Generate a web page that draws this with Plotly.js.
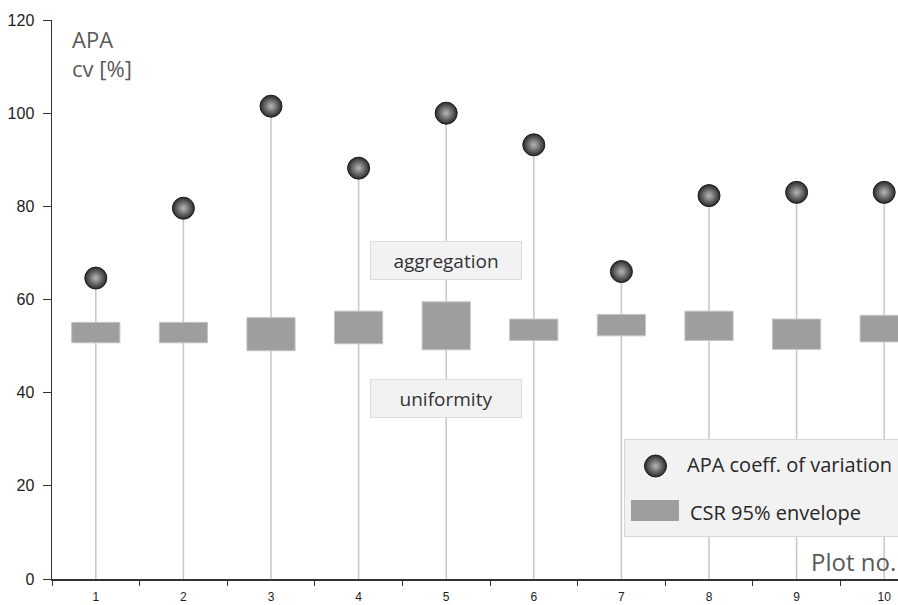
<!DOCTYPE html>
<html>
<head>
<meta charset="utf-8">
<script src="https://cdn.plot.ly/plotly-3.0.1.min.js"></script>
<style>
html, body { margin: 0; padding: 0; overflow: hidden; background: #ffffff; }
#chart { width: 940px; height: 605px; }
</style>
</head>
<body>
<div id="chart"></div>
<script>
// ---- data ----
const plotNo = ['1', '2', '3', '4', '5', '6', '7', '8', '9', '10'];
const apaCV = [64.6, 79.6, 101.5, 88.2, 100.0, 93.2, 66.0, 82.3, 83.0, 83.0];
const csrLow = [50.7, 50.7, 49.0, 50.5, 49.2, 51.2, 52.2, 51.2, 49.3, 50.9];
const csrHigh = [55.1, 55.1, 56.1, 57.5, 59.5, 55.8, 56.8, 57.5, 55.8, 56.6];
const yTicks = [0, 20, 40, 60, 80, 100, 120];

// ---- layout geometry ----
const W = 940, H = 605, ML = 52, MR = 12, MT = 20, MB = 26;
const PW = W - ML - MR, PH = H - MT - MB;
const px = x => (x - ML) / PW;
const py = y => (H - MB - y) / PH;

const envelopeSize = csrHigh.map((h, i) => h - csrLow[i]);

const traces = [
  {
    type: 'bar', x: plotNo, y: apaCV, width: 0.017,
    marker: { color: '#c6c6c6', line: { width: 0 } },
    showlegend: false, hoverinfo: 'skip'
  },
  {
    type: 'bar', x: plotNo, base: csrLow, y: envelopeSize, width: 0.55,
    marker: { color: '#9e9e9e', line: { color: '#c4c4c4', width: 1 } },
    name: 'CSR 95% envelope', showlegend: false
  },
  {
    type: 'scatter', mode: 'markers', x: plotNo, y: apaCV,
    marker: {
      size: 22, color: '#2a2a2a',
      gradient: { type: 'radial', color: '#b8b8b8' },
      line: { color: '#1c1c1c', width: 1 }
    },
    name: 'APA coeff. of variation', showlegend: false
  }
];

const svgUri = s => 'data:image/svg+xml;charset=utf-8,' + encodeURIComponent(s);
const legendBg = "<svg xmlns='http://www.w3.org/2000/svg' width='316' height='98' viewBox='0 0 316 98'>" +
  "<rect x='0.5' y='0.5' width='315' height='97' fill='#f2f2f2' stroke='#d6d6d6' stroke-width='1'/></svg>";
const legendBall = "<svg xmlns='http://www.w3.org/2000/svg' width='24' height='24' viewBox='0 0 24 24'>" +
  "<defs><radialGradient id='g' cx='50%' cy='50%' r='50%'><stop offset='0' stop-color='#b8b8b8'/>" +
  "<stop offset='1' stop-color='#2a2a2a'/></radialGradient></defs>" +
  "<circle cx='12' cy='12' r='11' fill='url(#g)' stroke='#1c1c1c' stroke-width='1'/></svg>";

const textFont = 'Open Sans, Noto Sans, sans-serif';
const annBox = (text, cx, cy) => ({
  xref: 'paper', yref: 'paper', x: px(cx), y: py(cy),
  xanchor: 'center', yanchor: 'middle', showarrow: false,
  text: text, font: { family: textFont, size: 19, color: '#333333' },
  bgcolor: '#f2f2f2', bordercolor: '#dcdcdc', borderwidth: 1, borderpad: 0,
  width: 150, height: 37
});
const annText = (text, x, cy, size, color) => ({
  xref: 'paper', yref: 'paper', x: px(x), y: py(cy),
  xanchor: 'left', yanchor: 'middle', showarrow: false, align: 'left',
  text: text, font: { family: textFont, size: size, color: color }
});

const layout = {
  width: W, height: H,
  margin: { l: ML, r: MR, t: MT, b: MB, pad: 0 },
  paper_bgcolor: '#ffffff', plot_bgcolor: '#ffffff',
  barmode: 'overlay',
  showlegend: false,
  xaxis: {
    type: 'category', range: [-0.5, 9.5], fixedrange: true,
    tickson: 'boundaries', ticks: 'outside', ticklen: 5, tickwidth: 1, tickcolor: '#333333',
    showline: true, linecolor: '#333333', linewidth: 1.5,
    showgrid: false, zeroline: false, automargin: false,
    tickfont: { family: 'Liberation Sans, Arial, sans-serif', size: 12, color: '#222222' },
    ticklabelstandoff: 6
  },
  yaxis: {
    range: [0, 120], tickvals: yTicks, ticktext: yTicks.map(String), fixedrange: true,
    ticks: 'outside', ticklen: 8, tickwidth: 1, tickcolor: '#333333',
    showline: true, linecolor: '#333333', linewidth: 1.5,
    showgrid: false, zeroline: false, automargin: false,
    tickfont: { family: 'Liberation Sans Narrow, Liberation Sans, Arial, sans-serif', size: 16, color: '#222222' },
    ticklabelstandoff: 5
  },
  images: [
    { source: svgUri(legendBg), xref: 'paper', yref: 'paper', x: px(624), y: py(439),
      sizex: 316 / PW, sizey: 98 / PH, xanchor: 'left', yanchor: 'top', sizing: 'stretch', layer: 'above' },
    { source: svgUri(legendBall), xref: 'paper', yref: 'paper', x: px(655.5), y: py(466),
      sizex: 24 / PW, sizey: 24 / PH, xanchor: 'center', yanchor: 'middle', sizing: 'stretch', layer: 'above' }
  ],
  shapes: [
    { type: 'rect', xref: 'paper', yref: 'paper', x0: px(631), x1: px(679), y0: py(521), y1: py(500),
      fillcolor: '#9e9e9e', line: { width: 0 }, layer: 'above' }
  ],
  annotations: [
    annBox('aggregation', 446, 260.5),
    annBox('uniformity', 446, 398.5),
    annText('APA<br>cv [%]', 70, 53, 22, '#595959'),
    annText('Plot no.', 809, 561, 24, '#595959'),
    annText('APA coeff. of variation', 685, 464.5, 20, '#262626'),
    annText('CSR 95% envelope', 688, 512, 20, '#262626')
  ]
};

Plotly.newPlot('chart', traces, layout, { staticPlot: true, displayModeBar: false });
</script>
</body>
</html>
